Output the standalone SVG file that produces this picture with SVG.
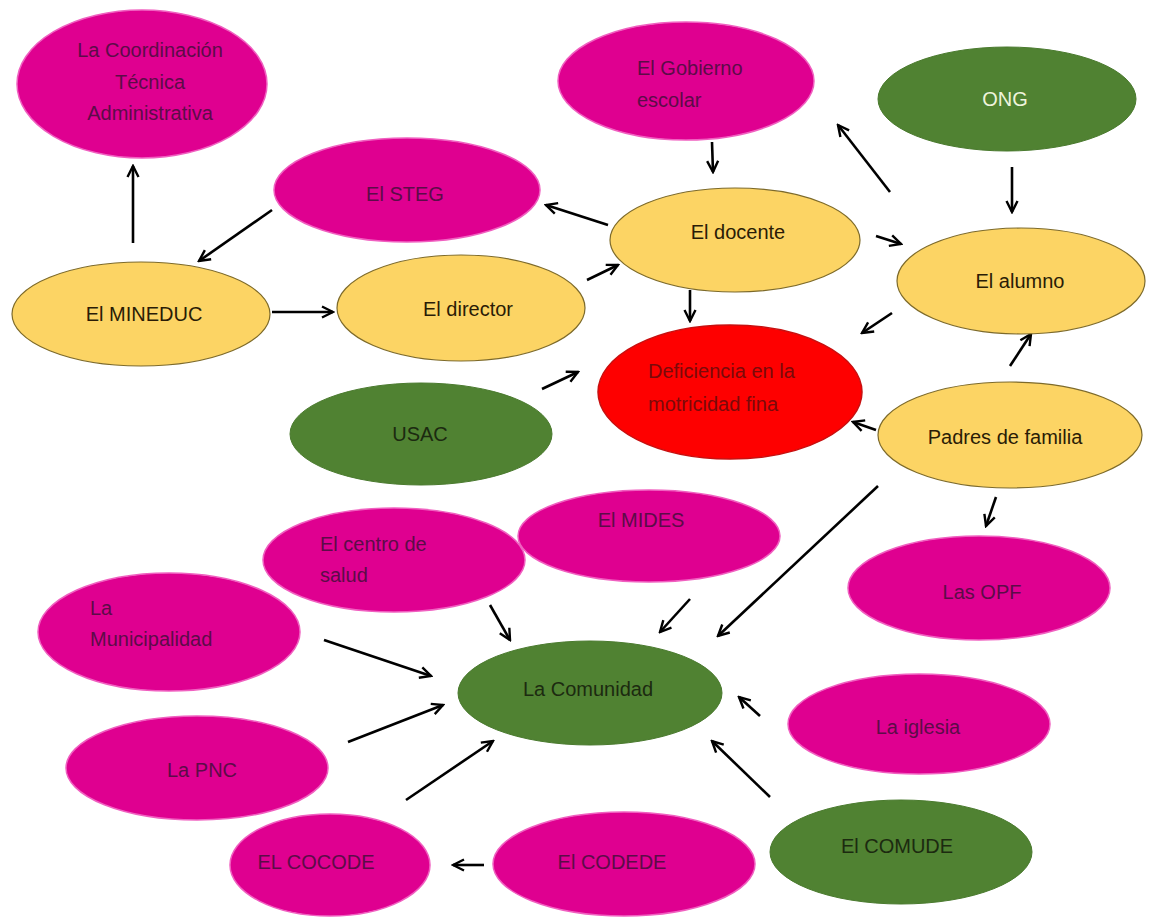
<svg xmlns="http://www.w3.org/2000/svg" width="1160" height="918" viewBox="0 0 1160 918">
<defs>
<marker id="ah" viewBox="0 0 14 14" refX="12" refY="7" markerWidth="14" markerHeight="14" markerUnits="userSpaceOnUse" orient="auto">
<path d="M1,1.5 L12,7 L1,12.5" fill="none" stroke="#000" stroke-width="2.4"/>
</marker>
<style>
.mag{fill:#df0090;stroke:#f060c0;stroke-width:1.5}
.yel{fill:#fcd464;stroke:#7d6a2a;stroke-width:1.2}
.grn{fill:#508232;stroke:#4a7a2e;stroke-width:1}
.red{fill:#fe0000;stroke:#c81010;stroke-width:1.5}
text{font-family:"Liberation Sans","DejaVu Sans",sans-serif;font-size:20px}
.tm{fill:#5c0c48}
.ty{fill:#2a1c06}
.tg{fill:#1c2a10}
.tr{fill:#7a0a0a}
.c{text-anchor:middle}
.ln{stroke:#000;stroke-width:2.6;fill:none;marker-end:url(#ah)}
</style>
</defs>
<rect width="1160" height="918" fill="#fff"/>
<g id="connectors">
<line class="ln" x1="133" y1="243" x2="133" y2="166"/>
<line class="ln" x1="272" y1="210" x2="199" y2="261"/>
<line class="ln" x1="272" y1="312" x2="333" y2="312"/>
<line class="ln" x1="587" y1="280" x2="618" y2="265"/>
<line class="ln" x1="608" y1="225" x2="546" y2="205"/>
<line class="ln" x1="712" y1="142" x2="713" y2="172"/>
<line class="ln" x1="890" y1="192" x2="838" y2="125"/>
<line class="ln" x1="876" y1="236" x2="901" y2="244"/>
<line class="ln" x1="1012" y1="167" x2="1012" y2="212"/>
<line class="ln" x1="690" y1="290" x2="690" y2="321"/>
<line class="ln" x1="892" y1="313" x2="862" y2="333"/>
<line class="ln" x1="1010" y1="366" x2="1031" y2="334"/>
<line class="ln" x1="542" y1="389" x2="578" y2="372"/>
<line class="ln" x1="876" y1="430" x2="853" y2="422"/>
<line class="ln" x1="996" y1="497" x2="986" y2="526"/>
<line class="ln" x1="878" y1="486" x2="718" y2="636"/>
<line class="ln" x1="690" y1="599" x2="660" y2="632"/>
<line class="ln" x1="490" y1="605" x2="510" y2="640"/>
<line class="ln" x1="324" y1="640" x2="431" y2="676"/>
<line class="ln" x1="348" y1="742" x2="443" y2="705"/>
<line class="ln" x1="406" y1="800" x2="493" y2="741"/>
<line class="ln" x1="760" y1="716" x2="739" y2="697"/>
<line class="ln" x1="770" y1="797" x2="712" y2="741"/>
<line class="ln" x1="484" y1="865" x2="453" y2="865"/>
</g>
<g id="coordinacion"><ellipse class="mag" cx="142" cy="84" rx="125" ry="74"/><text class="tm c" x="150" y="57">La Coordinación</text><text class="tm c" x="150" y="89">Técnica</text><text class="tm c" x="150" y="120">Administrativa</text></g>
<g id="gobierno"><ellipse class="mag" cx="686" cy="81" rx="128" ry="59"/><text class="tm" x="637" y="75">El Gobierno</text><text class="tm" x="637" y="107">escolar</text></g>
<g id="ong"><ellipse class="grn" cx="1007" cy="99" rx="129" ry="52"/><text class="c" x="1005" y="106" fill="#eef4dc">ONG</text></g>
<g id="steg"><ellipse class="mag" cx="407" cy="190" rx="133" ry="52"/><text class="tm c" x="405" y="201">El STEG</text></g>
<g id="docente"><ellipse class="yel" cx="735" cy="240" rx="125" ry="52"/><text class="ty c" x="738" y="239">El docente</text></g>
<g id="alumno"><ellipse class="yel" cx="1021" cy="281" rx="124" ry="53"/><text class="ty c" x="1020" y="288">El alumno</text></g>
<g id="mineduc"><ellipse class="yel" cx="141" cy="314" rx="129" ry="52"/><text class="ty c" x="144" y="321">El MINEDUC</text></g>
<g id="director"><ellipse class="yel" cx="461" cy="308" rx="124" ry="53"/><text class="ty c" x="468" y="316">El director</text></g>
<g id="deficiencia"><ellipse class="red" cx="730" cy="392" rx="132" ry="67"/><text class="tr" x="648" y="378">Deficiencia en la</text><text class="tr" x="648" y="411">motricidad fina</text></g>
<g id="usac"><ellipse class="grn" cx="421" cy="434" rx="131" ry="51"/><text class="tg c" x="420" y="441">USAC</text></g>
<g id="padres"><ellipse class="yel" cx="1010" cy="435" rx="132" ry="53"/><text class="ty c" x="1005" y="444">Padres de familia</text></g>
<g id="mides"><ellipse class="mag" cx="649" cy="536" rx="131" ry="46"/><text class="tm c" x="641" y="527">El MIDES</text></g>
<g id="salud"><ellipse class="mag" cx="394" cy="560" rx="131" ry="52"/><text class="tm" x="320" y="551">El centro de</text><text class="tm" x="320" y="582">salud</text></g>
<g id="opf"><ellipse class="mag" cx="979" cy="588" rx="131" ry="52"/><text class="tm c" x="982" y="599">Las OPF</text></g>
<g id="municipalidad"><ellipse class="mag" cx="169" cy="632" rx="131" ry="59"/><text class="tm" x="90" y="615">La</text><text class="tm" x="90" y="646">Municipalidad</text></g>
<g id="comunidad"><ellipse class="grn" cx="590" cy="693" rx="132" ry="52"/><text class="tg c" x="588" y="696">La Comunidad</text></g>
<g id="iglesia"><ellipse class="mag" cx="919" cy="724" rx="131" ry="50"/><text class="tm c" x="918" y="734">La iglesia</text></g>
<g id="pnc"><ellipse class="mag" cx="197" cy="768" rx="131" ry="52"/><text class="tm c" x="202" y="777">La PNC</text></g>
<g id="cocode"><ellipse class="mag" cx="330" cy="865" rx="100" ry="51"/><text class="tm c" x="316" y="869">EL COCODE</text></g>
<g id="codede"><ellipse class="mag" cx="624" cy="864" rx="131" ry="52"/><text class="tm c" x="612" y="869">El CODEDE</text></g>
<g id="comude"><ellipse class="grn" cx="901" cy="852" rx="131" ry="52"/><text class="tg c" x="897" y="853">El COMUDE</text></g>
</svg>
